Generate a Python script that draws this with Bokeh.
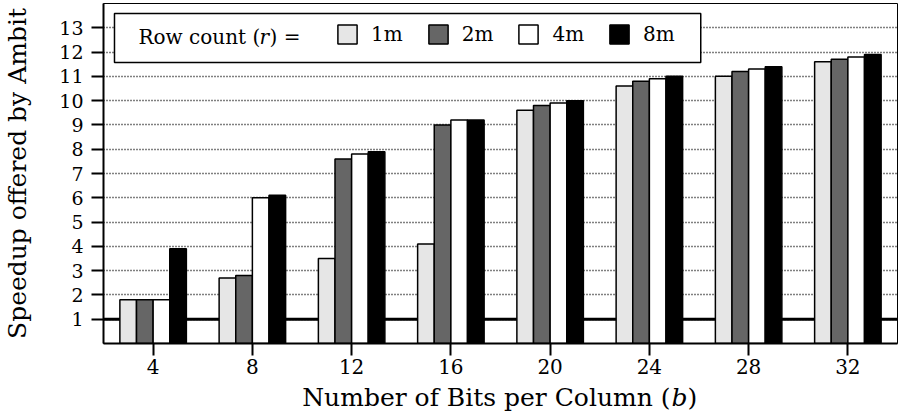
from bokeh.plotting import figure
from bokeh.layouts import column
from bokeh.models import Span, Label, BoxAnnotation, Legend, LegendItem, FixedTicker, Range1d
from bokeh.embed import file_html
from bokeh.resources import INLINE

# ---- data ----
bits = [4, 8, 12, 16, 20, 24, 28, 32]
row_counts = ["1m", "2m", "4m", "8m"]
speedup_1m = [1.8, 2.7, 3.5, 4.1, 9.6, 10.6, 11.0, 11.6]
speedup_2m = [1.8, 2.8, 7.6, 9.0, 9.8, 10.8, 11.2, 11.7]
speedup_4m = [1.8, 6.0, 7.8, 9.2, 9.9, 10.9, 11.3, 11.8]
speedup_8m = [3.9, 6.1, 7.9, 9.2, 10.0, 11.0, 11.4, 11.9]
y_ticks = list(range(1, 14))
baseline = 1.0

# ---- style ----
FONT = "DejaVu Serif"
W = 900
H_MAIN, H_TITLE = 383, 30
BL, BR, BT, BB = 102, 3, 3, 40
X0, X1 = 2, 34
Y0, Y1 = 0, 14
colors = ["#e6e6e6", "#666666", "#ffffff", "#000000"]
bar_w = 0.67
FW = W - BL - BR
FH = H_MAIN - BT - BB
px_x = (X1 - X0) / FW
px_y = (Y1 - Y0) / FH

p = figure(width=W, height=H_MAIN, output_backend="svg", toolbar_location=None,
           title=None,
           x_range=Range1d(X0, X1), y_range=Range1d(Y0, Y1),
           min_border_left=BL, min_border_right=BR, min_border_top=BT,
           min_border_bottom=BB)
p.background_fill_color = "white"
p.border_fill_color = "white"
p.outline_line_color = "black"
p.outline_line_width = 1
p.outline_line_alpha = 1

# grid
p.xgrid.visible = False
p.ygrid.ticker = FixedTicker(ticks=y_ticks)
p.ygrid.grid_line_color = "black"
p.ygrid.grid_line_dash = "1 2"
p.ygrid.grid_line_width = 1.3

# baseline
p.add_layout(Span(location=baseline, dimension="width", line_color="black",
                  line_width=3, level="underlay"))

# bars
series = [speedup_1m, speedup_2m, speedup_4m, speedup_8m]
renderers = []
for i, (vals, c) in enumerate(zip(series, colors)):
    xs = [b + (i - 1.5) * bar_w for b in bits]
    r = p.vbar(x=xs, top=vals, bottom=0, width=bar_w, fill_color=c,
               line_color="black", line_width=1.5)
    renderers.append(r)

# axes
p.xaxis.ticker = FixedTicker(ticks=bits)
p.yaxis.ticker = FixedTicker(ticks=y_ticks)
for ax in (p.xaxis[0], p.yaxis[0]):
    ax.axis_line_color = "black"
    ax.axis_line_width = 2
    ax.major_tick_line_color = "black"
    ax.major_tick_line_width = 2
    ax.major_tick_in = 0
    ax.major_tick_out = 12
    ax.minor_tick_line_color = None
    ax.major_label_text_font = FONT
    ax.major_label_text_color = "black"
    ax.axis_label_text_font = FONT
    ax.axis_label_text_font_style = "normal"
    ax.axis_label_text_color = "black"
    ax.axis_label_text_font_size = "25px"
p.yaxis.major_label_text_font_size = "19px"
p.xaxis.major_label_text_font_size = "20px"
p.yaxis.major_label_standoff = 8
p.xaxis.major_label_standoff = 3
p.yaxis.axis_label = "Speedup o\ufb00ered by Ambit"
p.yaxis.axis_label_standoff = 24

# legend box
p.add_layout(BoxAnnotation(left=X0 + 11 * px_x, right=X0 + 598 * px_x,
                           top=Y1 - 10 * px_y, bottom=Y1 - 59 * px_y,
                           fill_color="white", fill_alpha=1,
                           line_color="black", line_width=1.5, line_alpha=1))

legend = Legend(items=[LegendItem(label=lab, renderers=[r])
                       for lab, r in zip(row_counts, renderers)],
                orientation="horizontal", location=(232, FH - 19 - 24),
                glyph_width=24, glyph_height=24, label_standoff=12,
                spacing=23, padding=0, margin=0,
                border_line_color=None, background_fill_alpha=0,
                label_text_font=FONT, label_text_font_size="20px",
                label_text_color="black")
p.add_layout(legend)

lstyle = dict(text_font=FONT, text_font_size="20px", text_color="black",
              text_baseline="middle")
p.add_layout(Label(x=X0, y=Y1, x_offset=35, y_offset=-33, text="Row count (",
                   text_align="left", **lstyle))
p.add_layout(Label(x=X0, y=Y1, x_offset=156, y_offset=-33, text="r",
                   text_align="left", text_font_style="italic", **lstyle))
p.add_layout(Label(x=X0, y=Y1, x_offset=166, y_offset=-33, text=") =",
                   text_align="left", **lstyle))

# x axis title strip (allows italic b)
t = figure(width=W, height=H_TITLE, output_backend="svg", toolbar_location=None,
           title=None,
           x_range=p.x_range, y_range=Range1d(0, H_TITLE),
           min_border_left=BL, min_border_right=BR, min_border_top=0,
           min_border_bottom=0)
t.axis.visible = False
t.grid.visible = False
t.outline_line_color = None
t.background_fill_color = "white"
t.border_fill_color = "white"
xc = (X0 + X1) / 2
tstyle = dict(text_font=FONT, text_font_size="25px", text_color="black",
              text_baseline="middle")
TY = 16
t.add_layout(Label(x=xc, y=TY, x_offset=170, text="Number of Bits per Column (",
                   text_align="right", **tstyle))
t.add_layout(Label(x=xc, y=TY, x_offset=171, text="b", text_align="left",
                   text_font_style="italic", **tstyle))
t.add_layout(Label(x=xc, y=TY, x_offset=187, text=")", text_align="left",
                   **tstyle))

layout = column(p, t, spacing=0)
open("out.html", "w").write(file_html(layout, INLINE))
